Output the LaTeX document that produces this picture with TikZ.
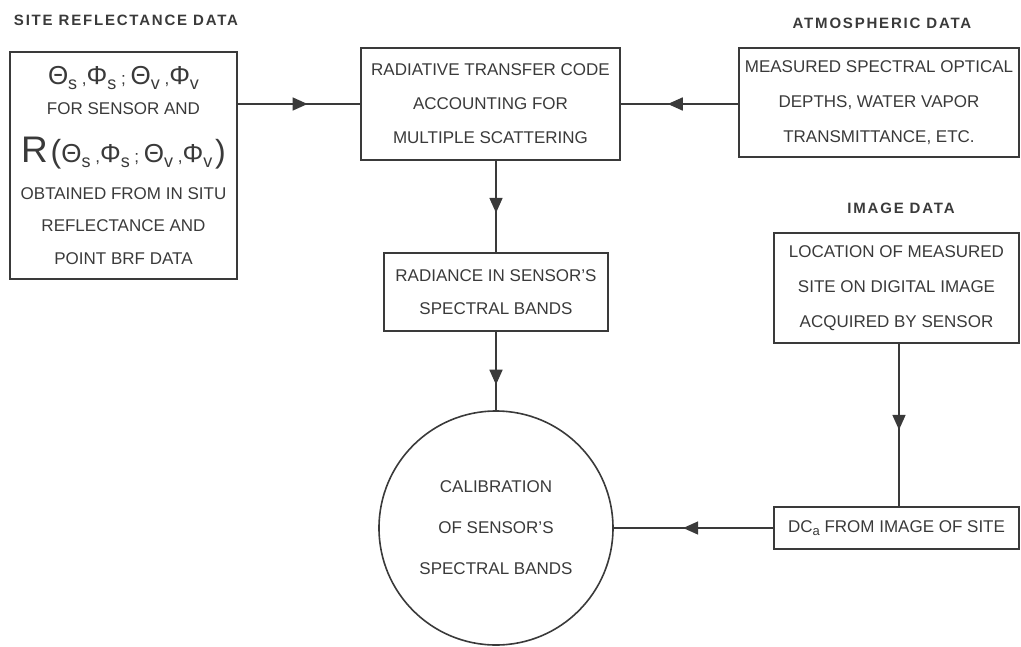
\documentclass[tikz,border=0pt]{standalone}
\usepackage{fontspec}
\setmainfont{Liberation Sans}
\newfontfamily\titlefont{Liberation Sans}[LetterSpace=12]
\usetikzlibrary{arrows.meta,decorations.markings}
\definecolor{ink}{HTML}{3A3A3A}
% angle symbols: large Greek letters with lowered subscripts
\newcommand\grk[1]{{\fontsize{26}{26}\selectfont #1}}
\newcommand\lowsub[1]{\raisebox{-5pt}{\fontsize{18}{18}\selectfont #1}}
\newcommand\paren[1]{{\fontsize{32}{32}\selectfont #1}}
\newcommand\angles{\grk{Θ}\lowsub{s} ,\grk{Φ}\lowsub{s} ; \grk{Θ}\lowsub{v} ,\grk{Φ}\lowsub{v}}
\begin{document}
\begin{tikzpicture}[x=1pt,y=-1pt,
  box/.style={draw=ink, line width=1.6pt, rectangle, inner sep=0pt, align=center,
    text=ink, font=\fontsize{17}{34}\selectfont},
  heading/.style={text=ink, inner sep=0pt, font=\titlefont\bfseries\fontsize{15}{15}\selectfont},
  flow/.style={draw=ink, line width=1.6pt},
  tipat/.style={postaction={decorate}, decoration={markings,
    mark=at position #1 with {\arrow[ink]{Triangle[length=15pt,width=13pt]}}}}]
\useasboundingbox (0,0) rectangle (1021,646);

% section headings
\node[heading] (hsite) at (126,20) {SITE REFLECTANCE DATA};
\node[heading] (hatm) at (882,23) {ATMOSPHERIC DATA};
\node[heading] (himg) at (901,208) {IMAGE DATA};

% boxes
\node[box, minimum width=227pt, minimum height=227pt, font=\fontsize{17}{33}\selectfont]
  (site) at (123.5,165.5)
  {\angles\\[-3pt]
   FOR SENSOR AND\\[15pt]
   {\fontsize{37}{37}\selectfont R}\,\paren{(}\angles\,\paren{)}\\[4pt]
   OBTAINED FROM IN SITU\\
   REFLECTANCE AND\\
   POINT BRF DATA};

\node[box, minimum width=259pt, minimum height=112pt] (rtc) at (490.5,104)
  {RADIATIVE TRANSFER CODE\\ ACCOUNTING FOR\\ MULTIPLE SCATTERING};

\node[box, minimum width=280pt, minimum height=109pt, font=\fontsize{17}{35}\selectfont]
  (atm) at (879,102.5)
  {MEASURED SPECTRAL OPTICAL\\ DEPTHS, WATER VAPOR\\ TRANSMITTANCE, ETC.};

\node[box, minimum width=245pt, minimum height=110pt, font=\fontsize{17}{35}\selectfont]
  (img) at (896.5,288)
  {LOCATION OF MEASURED\\ SITE ON DIGITAL IMAGE\\ ACQUIRED BY SENSOR};

\node[box, minimum width=224pt, minimum height=78pt, font=\fontsize{17}{33}\selectfont]
  (rad) at (496,292)
  {RADIANCE IN SENSOR'S\\ SPECTRAL BANDS};

\node[box, circle, minimum size=234pt, font=\fontsize{17}{41}\selectfont]
  (cal) at (496,528)
  {CALIBRATION\\ OF SENSOR'S\\ SPECTRAL BANDS};

\node[box, minimum width=245pt, minimum height=42pt] (dc) at (896.5,528)
  {DC\raisebox{-3pt}{\fontsize{13}{13}\selectfont a} FROM IMAGE OF SITE};

% connectors
\coordinate (drop) at (899,0);
\draw[flow, tipat=0.57] (site.east |- rtc.west) -- (rtc.west);
\draw[flow, tipat=0.6] (atm.west |- rtc.east) -- (rtc.east);
\draw[flow, tipat=0.57] (rtc.south -| rad.north) -- (rad.north);
\draw[flow, tipat=0.675] (rad.south) -- (cal.north);
\draw[flow, tipat=0.53] (img.south -| drop) -- (dc.north -| drop);
\draw[flow, tipat=0.565] (dc.west) -- (cal.east);
\end{tikzpicture}
\end{document}
